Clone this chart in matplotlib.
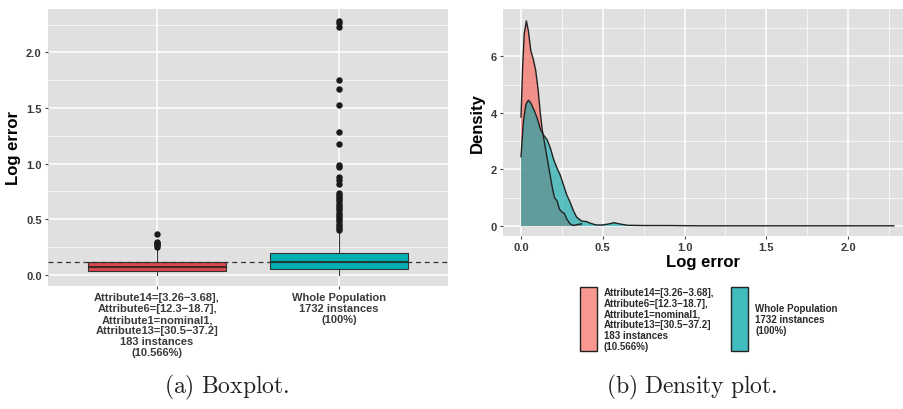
import matplotlib
matplotlib.use("Agg")
import matplotlib.pyplot as plt
from matplotlib.patches import Rectangle
import numpy as np

plt.rcParams['font.family'] = ['Liberation Sans', 'DejaVu Sans']
plt.rcParams['mathtext.fontset'] = 'cm'

# ---------------- data ----------------
categories = ["Attribute14=[3.26\u22123.68],\nAttribute6=[12.3\u221218.7],\nAttribute1=nominal1,\nAttribute13=[30.5\u221237.2]\n183 instances\n(10.566%)",
              "Whole Population\n1732 instances\n(100%)"]
legend_labels = ["Attribute14=[3.26\u22123.68],\nAttribute6=[12.3\u221218.7],\nAttribute1=nominal1,\nAttribute13=[30.5\u221237.2]\n183 instances\n(10.566%)",
                 "Whole Population\n1732 instances\n(100%)"]

# box statistics: whislo, q1, med, q3, whishi
sub_box = [0.0, 0.038, 0.072, 0.115, 0.235]
pop_box = [0.0, 0.055, 0.115, 0.198, 0.39]
sub_outliers = [0.25, 0.265, 0.28, 0.29, 0.30, 0.37]
pop_outliers = [0.40, 0.42, 0.44, 0.46, 0.48, 0.50, 0.52, 0.54, 0.56, 0.58, 0.60,
                0.62, 0.64, 0.66, 0.68, 0.70, 0.72, 0.74, 0.82, 0.85, 0.88, 0.97,
                0.99, 1.18, 1.28, 1.53, 1.67, 1.75, 2.23, 2.26, 2.28]
population_median = 0.115

# density curves
sub_x = [0.0, 0.01, 0.02, 0.033, 0.045, 0.06, 0.075, 0.09, 0.105, 0.118, 0.13, 0.145,
         0.16, 0.175, 0.19, 0.205, 0.22, 0.235, 0.25, 0.265, 0.28, 0.30, 0.32, 0.34, 0.37]
sub_y = [3.85, 5.6, 6.8, 7.25, 6.9, 6.2, 5.9, 5.5, 4.8, 4.0, 3.4, 2.9,
         2.4, 1.9, 1.4, 1.0, 0.9, 0.6, 0.5, 0.45, 0.25, 0.08, 0.02, 0.05, 0.08]
pop_x = [0.0, 0.015, 0.03, 0.045, 0.06, 0.08, 0.10, 0.12, 0.14, 0.16, 0.18, 0.20,
         0.22, 0.24, 0.26, 0.28, 0.30, 0.32, 0.34, 0.37, 0.40, 0.43, 0.46, 0.50,
         0.54, 0.57, 0.60, 0.65, 0.75, 0.90, 1.10, 1.40, 1.70, 2.00, 2.28]
pop_y = [2.45, 3.7, 4.3, 4.45, 4.35, 4.1, 3.8, 3.4, 3.2, 3.05, 2.75, 2.35,
         2.05, 1.8, 1.45, 1.1, 0.85, 0.55, 0.32, 0.18, 0.16, 0.09, 0.04, 0.04,
         0.08, 0.12, 0.08, 0.03, 0.02, 0.02, 0.01, 0.01, 0.01, 0.01, 0.01]

# ---------------- style ----------------
panel_bg = '#DFE0DF'
red_box = '#D9484A'
teal_box = '#00AFB2'
red_fill = '#F8766D'
teal_fill = '#00A5A8'
tick_col = '#3A3A3A'

fig = plt.figure(figsize=(9.04, 4.10), dpi=100)

def style_axes(ax):
    ax.set_facecolor(panel_bg)
    for s in ax.spines.values():
        s.set_visible(False)
    ax.grid(True, which='major', color='white', linewidth=1.1)
    ax.grid(True, which='minor', color='white', linewidth=0.5)
    ax.set_axisbelow(True)
    ax.tick_params(which='major', length=2.5, color='#444444', labelsize=8,
                   labelcolor=tick_col, pad=2)
    ax.tick_params(which='minor', length=0)
    for lab in ax.get_xticklabels() + ax.get_yticklabels():
        lab.set_fontweight('bold')

# ---------------- boxplot ----------------
ax1 = fig.add_axes([48/904, (410-287)/410, 400/904, 277/410])
stats = []
for lbl, b, fl in [(categories[0], sub_box, sub_outliers), (categories[1], pop_box, pop_outliers)]:
    stats.append(dict(label=lbl, whislo=b[0], q1=b[1], med=b[2], q3=b[3], whishi=b[4], fliers=fl))
bp = ax1.bxp(stats, positions=[1, 2], widths=0.76, patch_artist=True, showcaps=False,
             boxprops=dict(edgecolor='#333333', linewidth=0.8),
             medianprops=dict(color='#222222', linewidth=1.2),
             whiskerprops=dict(color='#333333', linewidth=0.8),
             flierprops=dict(marker='o', markerfacecolor='#1a1a1a', markeredgecolor='#1a1a1a',
                             markersize=3.6))
for patch, c in zip(bp['boxes'], [red_box, teal_box]):
    patch.set_facecolor(c)
ax1.axhline(population_median, color='#333333', linestyle=(0, (4, 3)), linewidth=0.9, zorder=5)
ax1.set_xlim(0.4, 2.6)
ax1.set_ylim(-0.1, 2.39)
ax1.set_yticks([0.0, 0.5, 1.0, 1.5, 2.0])
ax1.set_yticklabels(['0.0', '0.5', '1.0', '1.5', '2.0'])
ax1.set_yticks([0.25, 0.75, 1.25, 1.75, 2.25], minor=True)
ax1.set_xticks([1, 2])
ax1.set_xticklabels(categories, fontsize=7.2, linespacing=1.12)
style_axes(ax1)
ax1.set_ylabel('Log error', fontsize=12, fontweight='bold', labelpad=4)

# ---------------- density ----------------
ax2 = fig.add_axes([503/904, (410-237)/410, 400/904, 227/410])
ax2.fill_between(sub_x, 0, sub_y, facecolor=red_fill, alpha=0.75, linewidth=0, zorder=2)
ax2.plot(sub_x, sub_y, color='#222222', linewidth=1.0, zorder=4)
ax2.fill_between(pop_x, 0, pop_y, facecolor=teal_fill, alpha=0.6, linewidth=0, zorder=3)
ax2.plot(pop_x, pop_y, color='#222222', linewidth=1.0, zorder=4)
ax2.set_xlim(-0.11, 2.336)
ax2.set_ylim(-0.35, 7.67)
ax2.set_xticks([0.0, 0.5, 1.0, 1.5, 2.0])
ax2.set_xticklabels(['0.0', '0.5', '1.0', '1.5', '2.0'])
ax2.set_xticks([0.25, 0.75, 1.25, 1.75, 2.25], minor=True)
ax2.set_yticks([0, 2, 4, 6])
ax2.set_yticks([1, 3, 5, 7], minor=True)
style_axes(ax2)
ax2.set_xlabel('Log error', fontsize=12, fontweight='bold', labelpad=1)
ax2.set_ylabel('Density', fontsize=12, fontweight='bold', labelpad=4)

# legend (manual, below density panel)
W, H = 904, 410
for (x0, lbl, fc, a), ty in zip([(580, legend_labels[0], red_fill, 0.75), (731, legend_labels[1], teal_fill, 0.75)],
                                [320, 320]):
    fig.patches.append(Rectangle((x0/W, 1-352/H), 17/W, 64/H, transform=fig.transFigure,
                                 facecolor=fc, alpha=a, edgecolor='none'))
    fig.patches.append(Rectangle((x0/W, 1-352/H), 17/W, 64/H, transform=fig.transFigure,
                                 facecolor='none', edgecolor='#222222', linewidth=1.0))
    fig.text((x0+24)/W, 1-ty/H, lbl, fontsize=7, fontweight='bold', color='#2a2a2a',
             va='center', ha='left', linespacing=1.08)

# captions
fig.text(227/W, 1-387/H, r'$\mathrm{(a)\ Boxplot.}$', fontsize=17, ha='center', va='center', color='#222222')
fig.text(692/W, 1-387/H, r'$\mathrm{(b)\ Density\ plot.}$', fontsize=17, ha='center', va='center', color='#222222')

fig.savefig('out.png', dpi=100)
